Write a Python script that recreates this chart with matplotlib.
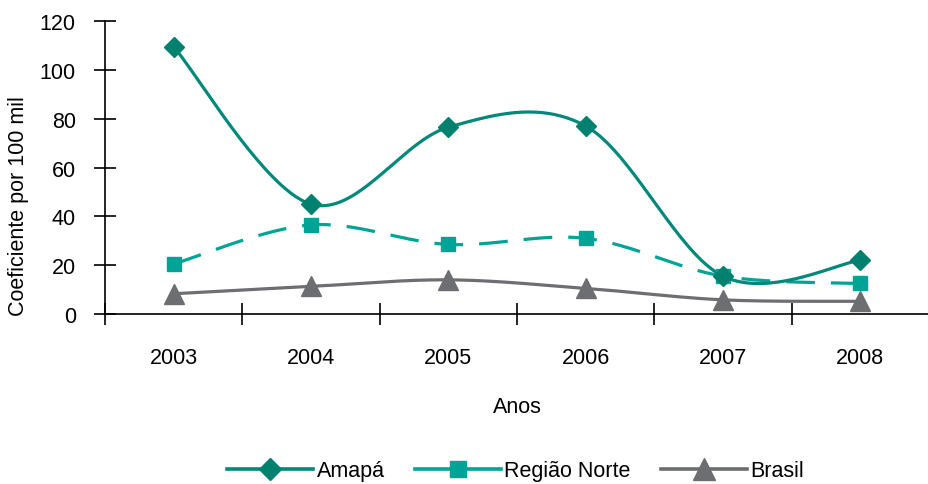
import numpy as np
import matplotlib
matplotlib.use('Agg')
import matplotlib.pyplot as plt

plt.rcParams['font.family'] = ['Liberation Sans', 'DejaVu Sans']

YEARS = ["2003", "2004", "2005", "2006", "2007", "2008"]
AMAPA = [109.5, 45.0, 76.5, 77.0, 15.5, 22.0]
REGIAO_NORTE = [20.5, 36.5, 28.5, 31.0, 15.5, 12.5]
BRASIL = [8.3, 11.3, 14.0, 10.5, 5.8, 5.2]

C_AMAPA = '#00897a'
C_AMAPA_MK = '#00806f'
C_NORTE = '#00a496'
C_BRASIL = '#6d6e71'


def smooth_curve(y, n=40):
    # Catmull-Rom style bezier between consecutive points (spreadsheet smoothing)
    x = np.arange(len(y), dtype=float)
    y = np.asarray(y, dtype=float)
    pts = np.column_stack([x, y])
    out = []
    for i in range(len(pts) - 1):
        p0 = pts[max(i - 1, 0)]
        p1 = pts[i]
        p2 = pts[i + 1]
        p3 = pts[min(i + 2, len(pts) - 1)]
        c1 = p1 + (p2 - p0) / 6.0
        c2 = p2 - (p3 - p1) / 6.0
        t = np.linspace(0, 1, n)[:, None]
        seg = ((1 - t) ** 3) * p1 + 3 * ((1 - t) ** 2) * t * c1 + 3 * (1 - t) * t ** 2 * c2 + t ** 3 * p2
        out.append(seg if i == 0 else seg[1:])
    seg = np.vstack(out)
    return seg[:, 0], seg[:, 1]


fig = plt.figure(figsize=(9.29, 4.85), dpi=100)
ax = fig.add_axes([0.113, 0.3505, 0.887, 0.604])

x = np.arange(len(YEARS))

series = [
    (AMAPA, C_AMAPA, C_AMAPA_MK, 'D', 10, '-', "Amapá"),
    (REGIAO_NORTE, C_NORTE, C_NORTE, 's', 10, (0, (9, 5)), "Região Norte"),
    (BRASIL, C_BRASIL, C_BRASIL, '^', 14, '-', "Brasil"),
]

handles = []
for vals, col, mcol, mk, ms, ls, name in reversed(series):
    sx, sy = smooth_curve(vals)
    ax.plot(sx, sy, color=col, lw=2.3, linestyle=ls, solid_capstyle='butt', zorder=2)
    ax.plot(x, vals, linestyle='none', marker=mk, markersize=ms, color=mcol,
            markeredgecolor=mcol, zorder=3)

for vals, col, mcol, mk, ms, ls, name in series:
    h, = ax.plot([], [], color=col, lw=2.6, linestyle='-', marker=mk,
                 markersize=ms * 1.1, markerfacecolor=mcol, markeredgecolor=mcol, label=name)
    handles.append(h)

ax.set_xlim(-0.5, len(YEARS) - 0.5)
ax.set_ylim(0, 120)
ax.set_yticks(np.arange(0, 121, 20))

ax.set_xticks(np.arange(-0.5, len(YEARS), 1.0))
ax.set_xticklabels([])
ax.set_xticks(x, minor=True)
ax.set_xticklabels(YEARS, minor=True)
ax.tick_params(axis='x', which='major', direction='inout', length=16, width=1.2)
ax.tick_params(axis='x', which='minor', length=0, pad=24, labelsize=15.5)
ax.tick_params(axis='y', direction='inout', length=16, width=1.2, labelsize=15.5, pad=13)

for side in ['top', 'right']:
    ax.spines[side].set_visible(False)
for side in ['left', 'bottom']:
    ax.spines[side].set_linewidth(1.2)

fig.text(19 / 929, 1 - 206 / 485, "Coeficiente por 100 mil", rotation=90,
         ha='center', va='center', fontsize=15.5)
ax.set_xlabel("Anos", fontsize=15.5, labelpad=20)

fig.legend(handles=handles, loc='center', bbox_to_anchor=(0.555, 0.027), ncol=3,
           frameon=False, fontsize=15.5, handlelength=4.0, handletextpad=0.15,
           columnspacing=1.4)

fig.savefig('out.png', dpi=100, facecolor='white')
